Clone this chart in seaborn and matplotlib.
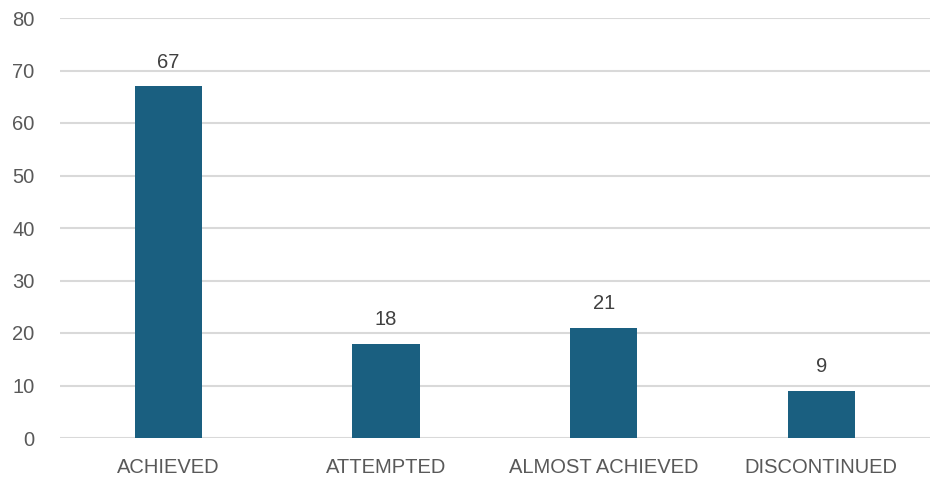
import matplotlib
matplotlib.use("Agg")
import matplotlib.pyplot as plt
import pandas as pd
import seaborn as sns

# datos
categorias = ["ACHIEVED", "ATTEMPTED", "ALMOST ACHIEVED", "DISCONTINUED"]
valores = [67, 18, 21, 9]

df = pd.DataFrame({"categoria": categorias, "valor": valores})

sns.set_theme(style="white")
plt.rcParams["font.family"] = ["Liberation Sans", "DejaVu Sans"]

fig = plt.figure(figsize=(9.32, 4.8), dpi=100)
ax = fig.add_axes([0.064, 0.0875, 0.934, 0.875])

sns.barplot(data=df, x="categoria", y="valor", color="#1a5f80",
            width=0.31, saturation=1, linewidth=0, ax=ax)

ax.set_ylim(0, 80)
ax.set_yticks(range(0, 81, 10))
ax.set_xlim(-0.5, 3.5)
ax.grid(axis="y", color="#d9d9d9", linewidth=1.5)
ax.set_axisbelow(True)
for s in ax.spines.values():
    s.set_visible(False)
ax.set_xlabel("")
ax.set_ylabel("")
ax.tick_params(axis="y", length=0, pad=18, labelsize=14.5, labelcolor="#595959")
ax.tick_params(axis="x", length=0, pad=14.5, labelsize=14.5, labelcolor="#595959")

for i, v in enumerate(valores):
    ax.annotate(str(v), (i, v), xytext=(0, 10.5), textcoords="offset points",
                ha="center", va="bottom", fontsize=14.5, color="#404040")

fig.savefig("out.png", dpi=100)
